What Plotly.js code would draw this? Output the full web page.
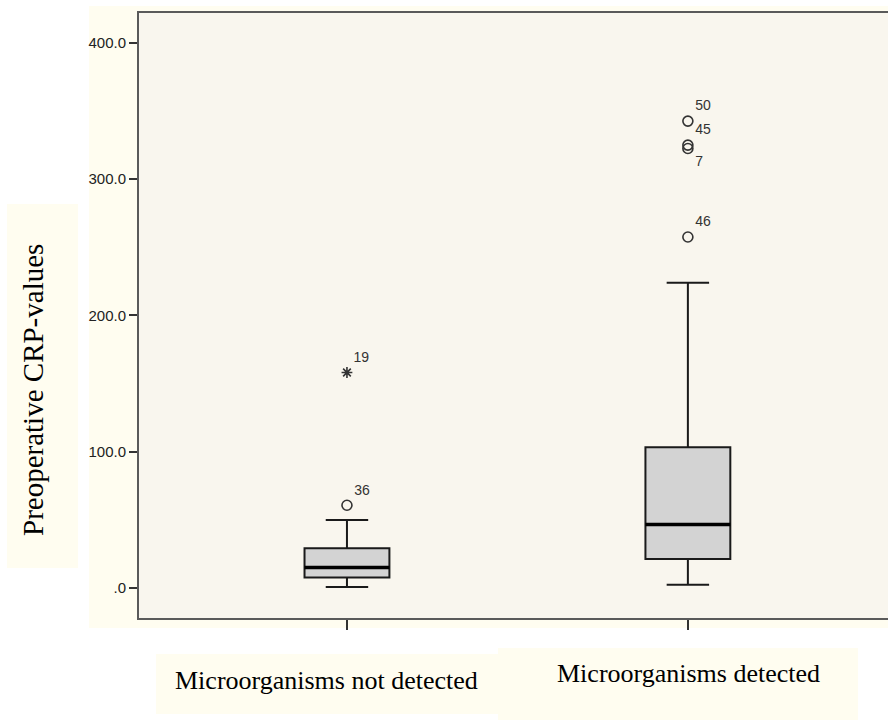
<!DOCTYPE html>
<html>
<head>
<meta charset="utf-8">
<script src="https://cdn.plot.ly/plotly-3.0.1.min.js"></script>
<style>
html,body{margin:0;padding:0;background:#ffffff;}
#chart{width:888px;height:720px;}
</style>
</head>
<body>
<div id="chart"></div>
<script>
// ---- data ----
const categories = ["Microorganisms not detected", "Microorganisms detected"];
const groupPos = [0, 1];
const q1Values = [7.8, 21.3];
const medianValues = [15.1, 46.5];
const q3Values = [29.1, 103.3];
const lowerWhisker = [0.7, 2.4];
const upperWhisker = [49.9, 224.0];

const outlierGroup = [0, 1, 1, 1, 1];
const outlierValues = [60.7, 342.5, 324.9, 322.4, 257.5];
const outlierIds = ["36", "50", "45", "7", "46"];
const outlierLabelPos = ["top right", "top right", "top right", "bottom right", "top right"];

const extremeGroup = [0];
const extremeValues = [158.1];
const extremeIds = ["19"];

const yTickVals = [0, 100, 200, 300, 400];
const yTickText = [".0", "100.0", "200.0", "300.0", "400.0"];
const yTitle = "Preoperative CRP-values";

// ---- layout geometry (pixels) ----
const W = 888, H = 720;
const plotL = 139, plotR = 888, plotT = 13, plotB = 618;
const px = x => (x - plotL) / (plotR - plotL);
const py = y => (plotB - y) / (plotB - plotT);
const boxWidth = 0.249;

const sansFont = "Liberation Sans, Arial, sans-serif";
const serifFont = "Liberation Serif, Times New Roman, serif";

const boxTrace = {
  type: "box",
  x: groupPos,
  q1: q1Values,
  median: medianValues,
  q3: q3Values,
  lowerfence: lowerWhisker,
  upperfence: upperWhisker,
  boxpoints: false,
  width: boxWidth,
  whiskerwidth: 0.5,
  fillcolor: "#d3d3d3",
  line: {color: "#1a1a1a", width: 2},
  hoverinfo: "skip",
  showlegend: false
};

// thick median lines
const medX = [], medY = [];
groupPos.forEach((g, i) => {
  medX.push(g - boxWidth / 2, g + boxWidth / 2, null);
  medY.push(medianValues[i], medianValues[i], null);
});
const medianTrace = {
  type: "scatter", mode: "lines", x: medX, y: medY,
  line: {color: "#000000", width: 3.5}, hoverinfo: "skip", showlegend: false
};

const outlierTrace = {
  type: "scatter", mode: "markers+text",
  x: outlierGroup.map(g => groupPos[g]),
  y: outlierValues,
  text: outlierIds,
  textposition: outlierLabelPos,
  textfont: {family: sansFont, size: 14, color: "#333333"},
  marker: {symbol: "circle-open", size: 10, line: {width: 1.6}, color: "#333333"},
  cliponaxis: false, hoverinfo: "skip", showlegend: false
};

const extremeTrace = {
  type: "scatter", mode: "markers+text",
  x: extremeGroup.map(g => groupPos[g]),
  y: extremeValues,
  text: extremeIds,
  textposition: "top right",
  textfont: {family: sansFont, size: 14, color: "#333333"},
  marker: {symbol: "asterisk-open", size: 9, line: {width: 1.6, color: "#333333"}, color: "#333333"},
  cliponaxis: false, hoverinfo: "skip", showlegend: false
};

const cream = "#fffdf0";
const plotBg = "#f9f6ee";

const shapes = [
  {type: "rect", xref: "paper", yref: "paper", layer: "below",
   x0: px(89), x1: px(888), y0: py(628), y1: py(6), fillcolor: cream, line: {width: 0}},
  {type: "rect", xref: "paper", yref: "paper", layer: "below",
   x0: 0, x1: 1, y0: 0, y1: 1, fillcolor: plotBg, line: {width: 0}},
  {type: "rect", xref: "paper", yref: "paper", layer: "below",
   x0: px(7), x1: px(78), y0: py(568), y1: py(204), fillcolor: cream, line: {width: 0}},
  {type: "rect", xref: "paper", yref: "paper", layer: "below",
   x0: px(156), x1: px(500), y0: py(714), y1: py(654), fillcolor: cream, line: {width: 0}},
  {type: "rect", xref: "paper", yref: "paper", layer: "below",
   x0: px(498), x1: px(858), y0: py(720), y1: py(648), fillcolor: cream, line: {width: 0}}
];

const annotations = [
  {xref: "paper", yref: "paper", x: px(33), y: py(390), text: yTitle, textangle: -90,
   showarrow: false, xanchor: "center", yanchor: "middle",
   font: {family: serifFont, size: 29, color: "#000000"}},
  {xref: "paper", yref: "paper", x: px(326), y: py(680), text: categories[0],
   showarrow: false, xanchor: "center", yanchor: "middle",
   font: {family: serifFont, size: 26, color: "#000000"}},
  {xref: "paper", yref: "paper", x: px(688), y: py(673), text: categories[1],
   showarrow: false, xanchor: "center", yanchor: "middle",
   font: {family: serifFont, size: 26, color: "#000000"}}
];

const layout = {
  width: W, height: H,
  margin: {l: plotL, r: W - plotR, t: plotT, b: H - plotB, pad: 0},
  paper_bgcolor: "#ffffff",
  plot_bgcolor: "rgba(0,0,0,0)",
  showlegend: false,
  xaxis: {
    range: [-0.61, 1.587],
    tickvals: groupPos,
    showticklabels: false,
    ticks: "outside", ticklen: 10, tickwidth: 2, tickcolor: "#333333",
    showline: true, mirror: true, linecolor: "#5a5a5a", linewidth: 2,
    showgrid: false, zeroline: false, fixedrange: true
  },
  yaxis: {
    range: [-22, 421.8],
    tickvals: yTickVals, ticktext: yTickText,
    tickfont: {family: sansFont, size: 15, color: "#222222"},
    ticks: "outside", ticklen: 8, tickwidth: 2, tickcolor: "#333333",
    showline: true, linecolor: "#5a5a5a", linewidth: 2,
    showgrid: false, zeroline: false, fixedrange: true
  },
  shapes: shapes,
  annotations: annotations
};

Plotly.newPlot("chart", [boxTrace, medianTrace, outlierTrace, extremeTrace], layout,
  {displayModeBar: false, staticPlot: true});
</script>
</body>
</html>
